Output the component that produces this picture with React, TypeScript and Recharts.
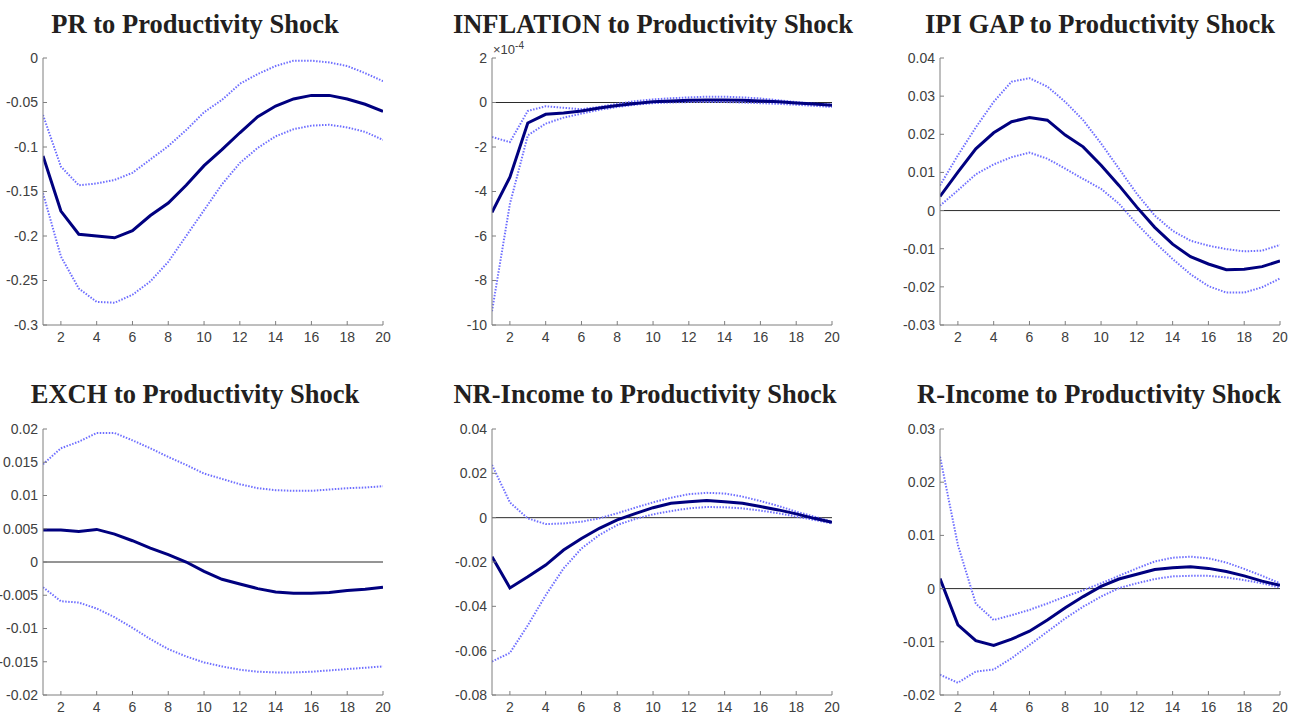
import React from "react";
import { LineChart, Line, XAxis, YAxis, ReferenceLine } from "recharts";

const periods = [1, 2, 3, 4, 5, 6, 7, 8, 9, 10, 11, 12, 13, 14, 15, 16, 17, 18, 19, 20];
const xTicks = [2, 4, 6, 8, 10, 12, 14, 16, 18, 20];

// PR
const prMid = [-0.110, -0.172, -0.198, -0.200, -0.202, -0.194, -0.177, -0.163, -0.143, -0.121, -0.103, -0.084, -0.066, -0.054, -0.046, -0.042, -0.042, -0.046, -0.052, -0.060];
const prUp = [-0.064, -0.122, -0.143, -0.141, -0.137, -0.129, -0.114, -0.099, -0.081, -0.061, -0.047, -0.029, -0.018, -0.009, -0.003, -0.003, -0.005, -0.009, -0.017, -0.026];
const prLo = [-0.152, -0.223, -0.259, -0.274, -0.275, -0.266, -0.251, -0.229, -0.200, -0.171, -0.142, -0.118, -0.101, -0.088, -0.080, -0.076, -0.075, -0.078, -0.083, -0.092];
const prTicks = [-0.3, -0.25, -0.2, -0.15, -0.1, -0.05, 0];

// INFLATION (in units of 1e-4)
const inflMid = [-4.94, -3.36, -0.92, -0.53, -0.47, -0.38, -0.25, -0.13, -0.04, 0.03, 0.07, 0.1, 0.11, 0.11, 0.1, 0.07, 0.03, -0.02, -0.07, -0.12];
const inflUp = [-1.55, -1.78, -0.38, -0.17, -0.24, -0.3, -0.2, -0.06, 0.06, 0.14, 0.19, 0.23, 0.26, 0.26, 0.23, 0.18, 0.1, 0.02, -0.05, -0.09];
const inflLo = [-9.38, -4.56, -1.48, -0.95, -0.68, -0.5, -0.33, -0.2, -0.1, -0.03, 0, 0.02, 0.02, 0.02, 0, -0.03, -0.06, -0.1, -0.15, -0.2];
const inflTicks = [-10, -8, -6, -4, -2, 0, 2];

// IPI GAP
const ipiMid = [0.0037, 0.0101, 0.0162, 0.0204, 0.0233, 0.0244, 0.0237, 0.0198, 0.0167, 0.0119, 0.0066, 0.0009, -0.0044, -0.0088, -0.0121, -0.0140, -0.0155, -0.0154, -0.0147, -0.0132];
const ipiUp = [0.0066, 0.0145, 0.0218, 0.0285, 0.0338, 0.0347, 0.0325, 0.0285, 0.0237, 0.0176, 0.0110, 0.0044, -0.0013, -0.0053, -0.0079, -0.0092, -0.0101, -0.0107, -0.0105, -0.0090];
const ipiLo = [0.0013, 0.0053, 0.0095, 0.0121, 0.0140, 0.0152, 0.0136, 0.0110, 0.0083, 0.0057, 0.0018, -0.0035, -0.0083, -0.0127, -0.0167, -0.0198, -0.0215, -0.0215, -0.0201, -0.0178];
const ipiTicks = [-0.03, -0.02, -0.01, 0, 0.01, 0.02, 0.03, 0.04];

// EXCH
const exchMid = [0.0048, 0.0048, 0.0046, 0.0049, 0.0042, 0.0032, 0.0021, 0.0011, 0.0000, -0.0014, -0.0026, -0.0033, -0.0040, -0.0045, -0.0047, -0.0047, -0.0046, -0.0043, -0.0041, -0.0038];
const exchUp = [0.0147, 0.0171, 0.0181, 0.0194, 0.0194, 0.0183, 0.0171, 0.0158, 0.0146, 0.0133, 0.0125, 0.0117, 0.0111, 0.0108, 0.0107, 0.0107, 0.0109, 0.0111, 0.0112, 0.0114];
const exchLo = [-0.0038, -0.0059, -0.0061, -0.0070, -0.0083, -0.0099, -0.0116, -0.0131, -0.0142, -0.0151, -0.0157, -0.0162, -0.0165, -0.0166, -0.0166, -0.0165, -0.0163, -0.0161, -0.0159, -0.0157];
const exchTicks = [-0.02, -0.015, -0.01, -0.005, 0, 0.005, 0.01, 0.015, 0.02];

// NR-Income
const nrMid = [-0.0176, -0.0317, -0.0267, -0.0214, -0.0146, -0.0094, -0.0048, -0.0010, 0.0018, 0.0045, 0.0065, 0.0072, 0.0077, 0.0072, 0.0065, 0.0050, 0.0035, 0.0017, -0.0003, -0.0021];
const nrUp = [0.0238, 0.0069, -0.0003, -0.0029, -0.0026, -0.0018, -0.0003, 0.0020, 0.0045, 0.0069, 0.0090, 0.0106, 0.0112, 0.0109, 0.0095, 0.0075, 0.0053, 0.0027, 0.0005, -0.0018];
const nrLo = [-0.0649, -0.0610, -0.0486, -0.0350, -0.0229, -0.0139, -0.0078, -0.0033, -0.0006, 0.0015, 0.0030, 0.0042, 0.0048, 0.0047, 0.0042, 0.0032, 0.0020, 0.0005, -0.0010, -0.0026];
const nrTicks = [-0.08, -0.06, -0.04, -0.02, 0, 0.02, 0.04];

// R-Income
const rMid = [0.0019, -0.0068, -0.0098, -0.0107, -0.0095, -0.0080, -0.0059, -0.0036, -0.0015, 0.0004, 0.0018, 0.0027, 0.0036, 0.0039, 0.0041, 0.0038, 0.0032, 0.0024, 0.0014, 0.0006];
const rUp = [0.0248, 0.0082, -0.0028, -0.0059, -0.0050, -0.0040, -0.0028, -0.0015, -0.0003, 0.0010, 0.0024, 0.0038, 0.0051, 0.0058, 0.0060, 0.0057, 0.0049, 0.0037, 0.0024, 0.0010];
const rLo = [-0.0162, -0.0177, -0.0156, -0.0152, -0.0131, -0.0106, -0.0081, -0.0056, -0.0034, -0.0015, 0.0001, 0.0010, 0.0018, 0.0023, 0.0024, 0.0024, 0.0021, 0.0016, 0.0010, 0.0002];
const rTicks = [-0.02, -0.01, 0, 0.01, 0.02, 0.03];

const panels = [
  { title: "PR to Productivity Shock", mid: prMid, up: prUp, lo: prLo, ticks: prTicks, zero: false },
  { title: "INFLATION to Productivity Shock", mid: inflMid, up: inflUp, lo: inflLo, ticks: inflTicks, zero: true, exp: "-4" },
  { title: "IPI GAP to Productivity Shock", mid: ipiMid, up: ipiUp, lo: ipiLo, ticks: ipiTicks, zero: true },
  { title: "EXCH to Productivity Shock", mid: exchMid, up: exchUp, lo: exchLo, ticks: exchTicks, zero: true },
  { title: "NR-Income to Productivity Shock", mid: nrMid, up: nrUp, lo: nrLo, ticks: nrTicks, zero: true },
  { title: "R-Income to Productivity Shock", mid: rMid, up: rUp, lo: rLo, ticks: rTicks, zero: true },
];

// layout: plot-area left/top, plot height, title centre
const layout = [
  { left: 43, top: 58, h: 267, tx: 195, ty: 9 },
  { left: 492, top: 58, h: 267, tx: 653, ty: 9 },
  { left: 940, top: 58, h: 267, tx: 1100, ty: 9 },
  { left: 43, top: 429, h: 266, tx: 195, ty: 379 },
  { left: 492, top: 429, h: 266, tx: 645, ty: 379 },
  { left: 940, top: 429, h: 266, tx: 1099, ty: 379 },
];

const PLOT_W = 340;
const AXIS = "#7f7f7f";
const SANS = "'Liberation Sans', Arial, sans-serif";
const tickFont = { fill: "#404040", fontSize: 14, fontFamily: SANS };

function Panel({ p, l }: any) {
  const rows = periods.map((t, i) => ({ t, mid: p.mid[i], up: p.up[i], lo: p.lo[i] }));
  const domain = [p.ticks[0], p.ticks[p.ticks.length - 1]];
  return (
    <>
      <div
        style={{
          position: "absolute",
          left: l.tx - 250,
          top: l.ty,
          width: 500,
          textAlign: "center",
          fontFamily: "'Liberation Serif', 'DejaVu Serif', serif",
          fontWeight: "bold",
          fontSize: 26.5,
          color: "#231f20",
          whiteSpace: "nowrap",
        }}
      >
        {p.title}
      </div>
      {p.exp && (
        <div
          style={{
            position: "absolute",
            left: l.left + 1,
            top: l.top - 18,
            fontFamily: SANS,
            fontSize: 13,
            color: "#404040",
          }}
        >
          ×10<sup style={{ fontSize: 10 }}>{p.exp}</sup>
        </div>
      )}
      <div style={{ position: "absolute", left: l.left - 50, top: l.top - 10 }}>
        <LineChart
          width={50 + PLOT_W + 10}
          height={10 + l.h + 30}
          data={rows}
          margin={{ top: 10, right: 10, bottom: 0, left: 0 }}
        >
          <XAxis
            dataKey="t"
            type="number"
            domain={[1, 20]}
            ticks={xTicks}
            interval={0}
            allowDataOverflow
            height={30}
            tickSize={-4}
            tickMargin={11}
            stroke={AXIS}
            fontSize={14}
            tick={tickFont}
          />
          <XAxis
            xAxisId="top"
            orientation="top"
            dataKey="t"
            type="number"
            domain={[1, 20]}
            ticks={xTicks}
            interval={0}
            height={0}
            tickSize={-4}
            tick={false}
            stroke={AXIS}
          />
          <YAxis
            type="number"
            domain={domain}
            ticks={p.ticks}
            interval={0}
            allowDataOverflow
            width={50}
            tickSize={-4}
            tickMargin={9}
            stroke={AXIS}
            fontSize={14}
            tick={tickFont}
            tickFormatter={(v: number) => String(v)}
          />
          <YAxis
            yAxisId="right"
            orientation="right"
            type="number"
            domain={domain}
            ticks={p.ticks}
            interval={0}
            width={0}
            tickSize={-4}
            tick={false}
            stroke={AXIS}
          />
          {p.zero && <ReferenceLine y={0} stroke="#2b2b2b" strokeWidth={1} />}
          <Line dataKey="up" type="linear" stroke="#6f6fff" strokeWidth={2} strokeDasharray="1.5 1.5" dot={false} isAnimationActive={false} />
          <Line dataKey="lo" type="linear" stroke="#6f6fff" strokeWidth={2} strokeDasharray="1.5 1.5" dot={false} isAnimationActive={false} />
          <Line dataKey="mid" type="linear" stroke="#00007f" strokeWidth={3} dot={false} isAnimationActive={false} />
        </LineChart>
      </div>
    </>
  );
}

export default function App() {
  return (
    <div
      style={{
        position: "absolute",
        left: 0,
        top: 0,
        width: 1289,
        height: 713,
        overflow: "hidden",
        background: "#fff",
      }}
    >
      {panels.map((p, i) => (
        <Panel key={i} p={p} l={layout[i]} />
      ))}
    </div>
  );
}
